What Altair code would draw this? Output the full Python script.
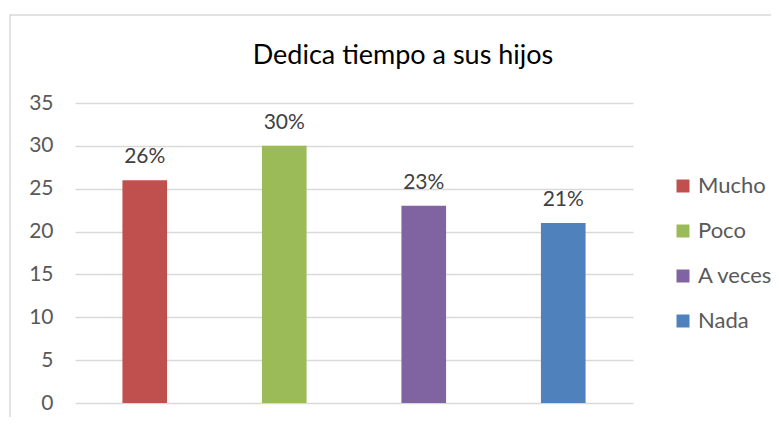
import altair as alt
import pandas as pd

categories = ["Mucho", "Poco", "A veces", "Nada"]
values = [26, 30, 23, 21]
labels = ["26%", "30%", "23%", "21%"]
colors = ["#C0504D", "#9BBB59", "#8064A2", "#4F81BD"]
y_ticks = [0, 5, 10, 15, 20, 25, 30, 35]
title_text = "Dedica tiempo a sus hijos"

df = pd.DataFrame({"categoria": categories, "valor": values, "etiqueta": labels})

FONT = "Lato"

x = alt.X("categoria:N", sort=categories, axis=None,
          scale=alt.Scale(paddingInner=0.68, paddingOuter=0.34))
y = alt.Y("valor:Q", scale=alt.Scale(domain=[0, 35], nice=False),
          axis=alt.Axis(values=y_ticks, title=None, domain=False, ticks=False,
                        labelPadding=22, labelFontSize=21, labelColor="#595959",
                        labelFont=FONT, gridColor="#D9D9D9", gridWidth=1.3))

border = alt.Chart(pd.DataFrame({"k": [0]})).mark_rect(
    fill="transparent", stroke="#D9D9D9", strokeWidth=1.5
).encode(x=alt.value(-65), x2=alt.value(900), y=alt.value(-88), y2=alt.value(500))

title = alt.Chart(pd.DataFrame({"t": [title_text]})).mark_text(
    baseline="alphabetic", align="center", fontSize=27, font=FONT, color="#000000"
).encode(x=alt.value(328), y=alt.value(-39), text="t:N")

bars = alt.Chart(df).mark_bar().encode(
    x=x, y=y,
    color=alt.Color("categoria:N", sort=categories,
                    scale=alt.Scale(domain=categories, range=colors),
                    legend=alt.Legend(title=None, orient="none", legendX=597, legendY=72,
                                      symbolType="square", symbolSize=169,
                                      symbolStrokeWidth=0, labelFontSize=22,
                                      labelFont=FONT, labelColor="#595959",
                                      rowPadding=23, labelOffset=4, padding=0)),
)

text = alt.Chart(df).mark_text(
    baseline="alphabetic", dy=-17, fontSize=21, font=FONT, color="#404040"
).encode(x=x, y=alt.Y("valor:Q"), text="etiqueta:N")

chart = alt.layer(border, title, bars, text).properties(
    width=558, height=300,
    autosize=alt.AutoSizeParams(type="none"),
    padding={"left": 67, "top": 95, "right": 138, "bottom": 14},
).configure_view(strokeWidth=0)

chart.save("out.html", embed_options={"renderer": "svg", "actions": False})
